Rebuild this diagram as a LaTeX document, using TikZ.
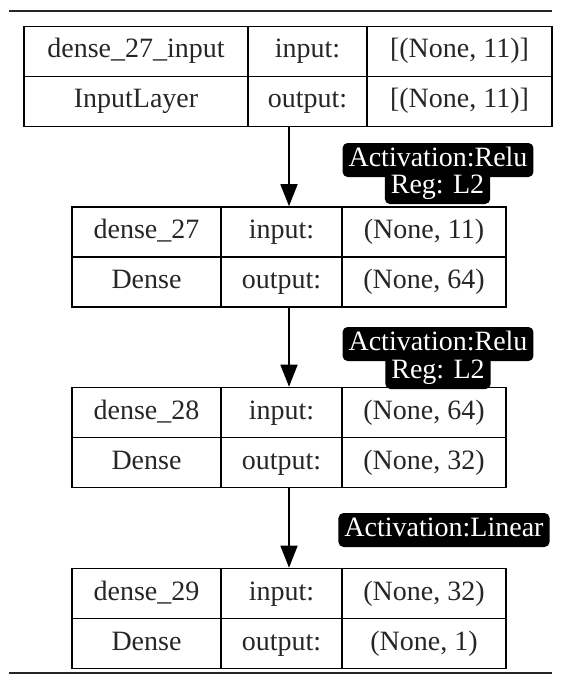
\documentclass[tikz,border=0pt]{standalone}
\usepackage{fontspec}
\setmainfont{Liberation Serif}
\usetikzlibrary{arrows.meta,positioning,fit}
\tikzset{
  cell/.style={rectangle,draw=black,line width=1.6pt,inner sep=0pt,
    minimum height=50pt,text height=19pt,text depth=6pt,text=black!85,
    font=\fontsize{28}{32}\selectfont},
  namecell/.style={cell,minimum width=149pt},
  keycell/.style={cell,minimum width=121pt},
  shapecell/.style={cell,minimum width=164pt},
  actlabel/.style={rectangle,rounded corners=5pt,fill=black,text=white,
    inner xsep=6pt,inner ysep=0pt,minimum height=34pt,text height=19pt,
    text depth=6pt,font=\fontsize{28}{32}\selectfont},
  layerbox/.style={inner sep=0pt,outer sep=0pt},
  flow/.style={-{Triangle[length=22pt,width=17pt]},line width=1.6pt},
  rule/.style={line width=2.6pt,black!85},
}
\begin{document}
\begin{tikzpicture}[x=1pt,y=-1pt]
  \useasboundingbox (0,0) rectangle (567,682);
  \draw[rule] (9,11) -- (552,11);
  \draw[rule] (9,673) -- (552,673);
  % input layer
  \node[cell,minimum width=224pt] (n0) at (136,51.5) {dense\_27\_input};
  \node[cell,minimum width=119pt] (i0) at (307.5,51.5) {input:};
  \node[cell,minimum width=185pt] (v0) at (459.5,51.5) {[(None, 11)]};
  \node[cell,minimum width=224pt] (t0) at (136,101.5) {InputLayer};
  \node[cell,minimum width=119pt] (o0) at (307.5,101.5) {output:};
  \node[cell,minimum width=185pt] (w0) at (459.5,101.5) {[(None, 11)]};
  \node[layerbox,fit=(n0)(w0)] (l0) {};
  % dense_27
  \node[namecell]  (n1) at (146.5,232) {dense\_27};
  \node[keycell]   (i1) at (281.5,232) {input:};
  \node[shapecell] (v1) at (424,232) {(None, 11)};
  \node[namecell]  (t1) at (146.5,282) {Dense};
  \node[keycell]   (o1) at (281.5,282) {output:};
  \node[shapecell] (w1) at (424,282) {(None, 64)};
  \node[layerbox,fit=(n1)(w1)] (l1) {};
  % dense_28
  \node[namecell]  (n2) at (146.5,412.5) {dense\_28};
  \node[keycell]   (i2) at (281.5,412.5) {input:};
  \node[shapecell] (v2) at (424,412.5) {(None, 64)};
  \node[namecell]  (t2) at (146.5,462.5) {Dense};
  \node[keycell]   (o2) at (281.5,462.5) {output:};
  \node[shapecell] (w2) at (424,462.5) {(None, 32)};
  \node[layerbox,fit=(n2)(w2)] (l2) {};
  % dense_29
  \node[namecell]  (n3) at (146.5,593.5) {dense\_29};
  \node[keycell]   (i3) at (281.5,593.5) {input:};
  \node[shapecell] (v3) at (424,593.5) {(None, 32)};
  \node[namecell]  (t3) at (146.5,643.5) {Dense};
  \node[keycell]   (o3) at (281.5,643.5) {output:};
  \node[shapecell] (w3) at (424,643.5) {(None, 1)};
  \node[layerbox,fit=(n3)(w3)] (l3) {};
  % edges
  \draw[flow] (l0.south -| l1.north) -- (l1.north);
  \draw[flow] (l1.south) -- (l2.north);
  \draw[flow] (l2.south) -- (l3.north);
  \node[actlabel] (a1) at (438,160) {Activation:Relu};
  \node[actlabel] (r1) at (437.5,187) {Reg: L2};
  \node[actlabel] (a2) at (438,344) {Activation:Relu};
  \node[actlabel] (r2) at (438,372) {Reg: L2};
  \node[actlabel] (a3) at (444,530) {Activation:Linear};
\end{tikzpicture}
\end{document}
